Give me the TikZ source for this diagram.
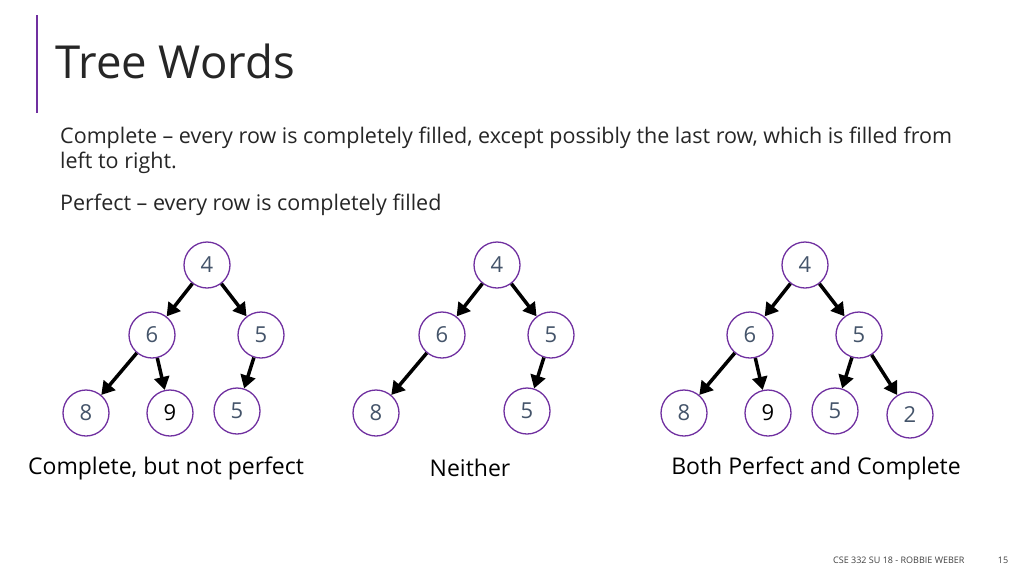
\documentclass[tikz,border=0pt]{standalone}
\usepackage{fontspec}
\setmainfont{Open Sans}
\usetikzlibrary{arrows.meta}
\definecolor{nodepurple}{HTML}{7030A0}
\definecolor{numcol}{HTML}{44546A}
\begin{document}
\begin{tikzpicture}[x=1pt,y=-1pt,
  tn/.style={circle,draw=nodepurple,line width=1.3pt,minimum size=46pt,inner sep=0pt,font=\fontsize{22}{24}\selectfont,text=numcol,fill=white},
  ed/.style={line width=3.5pt,-{Triangle[length=13pt,width=15pt]},shorten >=0pt},
  lbl/.style={font=\fontsize{23}{26}\selectfont,text=black}]
\useasboundingbox (0,0) rectangle (1024,576);
\fill[white] (0,0) rectangle (1024,576);
\draw[nodepurple,line width=1.5pt] (37,15) -- (37,113);
\node[anchor=west,font=\fontsize{45.5}{48}\selectfont,text=black!85] (title) at (52,61) {Tree Words};
\node[anchor=north west,align=left,inner sep=0pt,font=\fontsize{21.5}{25}\selectfont,text=black!85] (body) at (60,127) {Complete -- every row is completely filled, except possibly the last row, which is filled from\\ left to right.};
\node[anchor=west,inner sep=0pt,font=\fontsize{21.5}{25}\selectfont,text=black!85] (perf) at (60,205) {Perfect -- every row is completely filled};
% tree 1
\node[tn] (a4) at (207,265) {4};
\node[tn] (a6) at (152,335) {6};
\node[tn] (a5) at (261,335) {5};
\node[tn] (a8) at (86,413) {8};
\node[tn,text=black] (a9) at (170,413) {9};
\node[tn] (a55) at (237,411) {5};
\draw[ed] (a4) -- (a6); \draw[ed] (a4) -- (a5);
\draw[ed] (a6) -- (a8); \draw[ed] (a6) -- (a9); \draw[ed] (a5) -- (a55);
% tree 2
\node[tn] (b4) at (497,265) {4};
\node[tn] (b6) at (442,335) {6};
\node[tn] (b5) at (551,335) {5};
\node[tn] (b8) at (376,413) {8};
\node[tn] (b55) at (527,411) {5};
\draw[ed] (b4) -- (b6); \draw[ed] (b4) -- (b5);
\draw[ed] (b6) -- (b8); \draw[ed] (b5) -- (b55);
% tree 3
\node[tn] (c4) at (805,265) {4};
\node[tn] (c6) at (750,335) {6};
\node[tn] (c5) at (859,335) {5};
\node[tn] (c8) at (684,413) {8};
\node[tn,text=black] (c9) at (768,413) {9};
\node[tn] (c55) at (835,411) {5};
\node[tn] (c2) at (910,415) {2};
\draw[ed] (c4) -- (c6); \draw[ed] (c4) -- (c5);
\draw[ed] (c6) -- (c8); \draw[ed] (c6) -- (c9);
\draw[ed] (c5) -- (c55); \draw[ed] (c5) -- (c2);
% labels
\node[lbl] (l1) at (166,468) {Complete, but not perfect};
\node[lbl] (l2) at (470,468) {Neither};
\node[lbl] (l3) at (816,468) {Both Perfect and Complete};
\node[anchor=east,font=\fontsize{9}{10}\selectfont,text=black!75] (foot) at (968,560) {CSE 332 SU 18 - ROBBIE WEBER};
\node[font=\fontsize{9}{10}\selectfont,text=black!75] (pg) at (1003,560) {15};
\end{tikzpicture}
\end{document}
